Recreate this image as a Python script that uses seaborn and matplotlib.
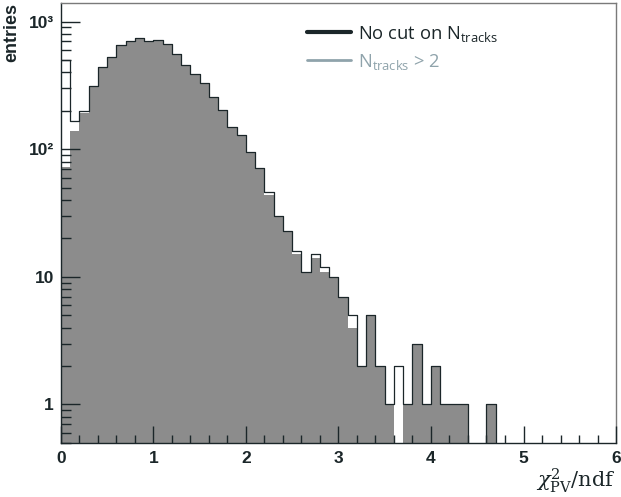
import numpy as np
import pandas as pd
import seaborn as sns
import matplotlib
matplotlib.use("Agg")
import matplotlib.pyplot as plt
from matplotlib.lines import Line2D
from matplotlib.ticker import FixedLocator, FixedFormatter, MultipleLocator

# ---- data ----
bin_width = 0.1
x_range = (0.0, 6.0)
counts_all = [500, 165, 200, 315, 440, 528, 655, 707, 740, 710,
              722, 670, 555, 460, 389, 330, 255, 203, 148, 130,
              95, 71, 46, 30, 23, 16, 11, 15, 12, 10,
              7, 5, 2, 5, 2, 1, 2, 1, 3, 1,
              2, 1, 1, 1, 0, 0, 1, 0, 0, 0,
              0, 0, 0, 0, 0, 0, 0, 0, 0, 0]
counts_cut = [72, 138, 192, 308, 432, 522, 650, 700, 735, 705,
              718, 666, 552, 458, 387, 328, 254, 202, 147, 129,
              94, 70, 44, 30, 23, 15, 11, 14, 11, 10,
              7, 4, 2, 5, 2, 1, 0, 1, 3, 1,
              2, 1, 1, 1, 0, 0, 1, 0, 0, 0,
              0, 0, 0, 0, 0, 0, 0, 0, 0, 0]
label_all = "No cut on N$_{\\mathrm{tracks}}$"
label_cut = "N$_{\\mathrm{tracks}}$ > 2"
y_ticks = [1, 10, 100, 1000]
y_tick_labels = ["1", "10", "10²", "10³"]
x_ticks = [0, 1, 2, 3, 4, 5, 6]

centers = x_range[0] + bin_width * (np.arange(len(counts_all)) + 0.5)
df = pd.DataFrame({"x": centers, "all": counts_all, "cut": counts_cut})

sns.set_style("white")
plt.rcParams["font.family"] = ["Liberation Sans", "DejaVu Sans"]
plt.rcParams["mathtext.fontset"] = "custom"
plt.rcParams["mathtext.rm"] = "Open Sans"
plt.rcParams["mathtext.it"] = "Open Sans:italic"

fig = plt.figure(figsize=(6.21, 4.97), dpi=100)
ax = fig.add_axes([0.098, 0.109, 0.894, 0.885])
ax.set_axisbelow(False)

gray = "#8c8c8c"
dark = "#1b2629"
sns.histplot(data=df, x="x", weights="cut", binwidth=bin_width, binrange=x_range,
             element="step", fill=True, color=gray, alpha=1.0, linewidth=0, ax=ax)
sns.histplot(data=df, x="x", weights="all", binwidth=bin_width, binrange=x_range,
             element="step", fill=False, color=dark, linewidth=0.9, ax=ax)

ax.set_yscale("log")
ax.set_xlim(0, 6)
ax.set_ylim(0.5, 1400)

ax.yaxis.set_major_locator(FixedLocator(y_ticks))
ax.yaxis.set_major_formatter(FixedFormatter(y_tick_labels))
ax.yaxis.set_minor_locator(matplotlib.ticker.LogLocator(base=10, subs=np.arange(2, 10)))
ax.yaxis.set_minor_formatter(matplotlib.ticker.NullFormatter())
ax.xaxis.set_major_locator(FixedLocator(x_ticks))
ax.xaxis.set_minor_locator(MultipleLocator(0.2))
ax.tick_params(axis="both", which="both", direction="in", colors=dark,
               top=False, right=False, bottom=True, left=True, labelsize=12.5)
ax.tick_params(axis="y", which="major", length=14, width=1, pad=5)
ax.tick_params(axis="y", which="minor", length=7, width=1)
ax.tick_params(axis="x", which="major", length=12, width=1, pad=6)
ax.tick_params(axis="x", which="minor", length=6, width=1)
for lab in ax.get_xticklabels() + ax.get_yticklabels():
    lab.set_fontweight("bold")
    lab.set_color(dark)

for s in ax.spines.values():
    s.set_color(dark)
    s.set_linewidth(1.0)
ax.spines["top"].set_color("#7a7a7a")
ax.spines["right"].set_color("#7a7a7a")

ax.set_ylabel("entries", loc="top", fontsize=13, fontweight="bold",
              color=dark, labelpad=6)
ax.set_xlabel(r"$\chi^{2}_{\mathrm{PV}}$/ndf", loc="right", fontsize=15,
              family=["DejaVu Serif"], color=dark, labelpad=0,
              math_fontfamily="dejavuserif")

handles = [Line2D([], [], color=dark, lw=3),
           Line2D([], [], color="#8fa3ab", lw=2)]
leg = ax.legend(handles, [label_all, label_cut], loc="upper left",
                bbox_to_anchor=(0.413, 0.99), frameon=False,
                handlelength=2.4, handletextpad=0.4, labelspacing=0.42,
                prop={"family": "Open Sans", "size": 13.2})
leg.get_texts()[0].set_color(dark)
leg.get_texts()[1].set_color("#8fa3ab")

fig.savefig("out.png", dpi=100, facecolor="white")
